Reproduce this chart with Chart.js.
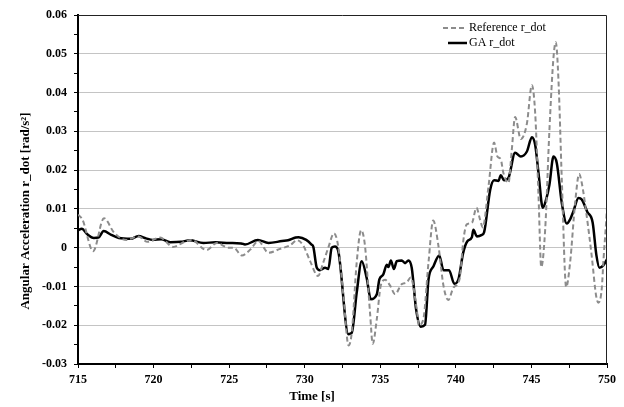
<!DOCTYPE html>
<html>
<head>
<meta charset="utf-8">
<script src="https://cdn.jsdelivr.net/npm/chart.js@4.4.1/dist/chart.umd.min.js"></script>
<style>
    body { margin: 0; background: #fff; }
    canvas { display: block; }
</style>
</head>
<body>
<canvas id="myChart" width="624" height="407"></canvas>
<script>
// GA r_dot trace (time in s, value in rad/s^2)
const gaTime = [
    715.0, 715.25, 715.6, 716.05, 716.35, 716.7, 717.2, 717.7, 718.5, 719.0,
    719.5, 719.95, 720.5, 721.1, 721.8, 722.4, 723.3, 724.1, 725.0, 725.8,
    726.05, 726.9, 727.6, 728.5, 728.9, 729.4, 729.6, 730.1, 730.45, 730.57,
    730.8, 731.0, 731.35, 731.56, 731.79, 732.0, 732.22, 732.89, 733.11, 733.44,
    733.77, 734.1, 734.37, 734.77, 734.94, 735.2, 735.43, 735.54, 735.7, 735.9,
    736.09, 736.42, 736.64, 736.86, 737.08, 737.37, 737.68, 737.96, 738.19, 738.52,
    738.9, 739.18, 739.55, 739.9, 740.17, 740.48, 740.75, 741.06, 741.16, 741.39,
    741.72, 741.87, 742.27, 742.53, 742.82, 742.97, 743.19, 743.48, 743.92, 744.3,
    744.7, 745.03, 745.25, 745.47, 745.75, 745.97, 746.19, 746.46, 746.68, 747.01,
    747.34, 747.56, 747.78, 748.11, 748.33, 748.7, 749.05, 749.3, 749.5, 749.77,
    750.0
];
const gaValue = [
    0.0045, 0.0049, 0.0035, 0.0025, 0.0026, 0.0043, 0.0033, 0.0025, 0.0023, 0.003,
    0.0024, 0.002, 0.0022, 0.0014, 0.0015, 0.0019, 0.0012, 0.0014, 0.0012, 0.0011,
    0.0008, 0.002, 0.0012, 0.0017, 0.0019, 0.0026, 0.0027, 0.002, 0.0008, 0.0002,
    -0.0052, -0.0058, -0.0052, -0.0055, 0.0, 0.0003, -0.0009, -0.0223, -0.022, -0.0116,
    -0.0035, -0.0078, -0.0133, -0.012, -0.0082, -0.0069, -0.0044, -0.005, -0.0033, -0.0055,
    -0.0035, -0.0033, -0.004, -0.0033, -0.0052, -0.0159, -0.0204, -0.0199, -0.0082, -0.0048,
    -0.002, -0.0058, -0.0058, -0.0093, -0.0082, -0.0014, 0.0016, 0.0027, 0.0046, 0.0029,
    0.0033, 0.004, 0.0149, 0.0174, 0.0172, 0.0187, 0.0174, 0.018, 0.0245, 0.0235,
    0.0248, 0.0285, 0.0265, 0.0192, 0.0103, 0.0124, 0.0162, 0.0235, 0.0218, 0.0115,
    0.0062, 0.0073, 0.0094, 0.0128, 0.0124, 0.0092, 0.0065, -0.002, -0.0052, -0.0045,
    -0.003
];

// Reference r_dot trace
const refTime = [
    715.0, 715.3, 716.0, 716.72, 717.4, 718.2, 719.0, 719.6, 720.43, 721.3,
    722.1, 722.5, 723.5, 724.18, 724.95, 725.3, 725.83, 726.4, 726.93, 727.6,
    728.37, 729.03, 729.5, 729.91, 730.35, 730.88, 731.23, 731.56, 731.94, 732.23,
    732.56, 732.9, 733.11, 733.44, 733.73, 733.99, 734.32, 734.5, 734.77, 735.03,
    735.32, 735.65, 735.98, 736.42, 736.75, 737.01, 737.41, 737.55, 737.85, 738.19,
    738.5, 738.85, 739.18, 739.5, 739.84, 740.25, 740.5, 740.72, 741.06, 741.36,
    741.6, 741.78, 742.16, 742.53, 742.75, 742.97, 743.15, 743.48, 743.7, 743.92,
    744.3, 744.7, 745.03, 745.25, 745.47, 745.65, 745.91, 746.19, 746.46, 746.61,
    746.79, 747.01, 747.3, 747.56, 747.89, 748.16, 748.33, 748.66, 748.99, 749.28,
    749.43, 749.65, 749.77, 749.94, 750.0
];
const refValue = [
    0.0085, 0.0072, -0.0009, 0.0076, 0.0038, 0.002, 0.0029, 0.0015, 0.0026, 0.0002,
    0.0016, 0.002, -0.0006, 0.0012, 0.0, 0.0, -0.002, -0.0005, 0.0017, -0.0013,
    -0.0003, 0.0006, 0.0019, 0.0005, -0.0034, -0.0073, -0.0038, 0.0, 0.0037, 0.0,
    -0.0124, -0.0252, -0.022, -0.0038, 0.0045, 0.0004, -0.0167, -0.0248, -0.0184, -0.0098,
    -0.0083, -0.0098, -0.012, -0.0094, -0.009, -0.0077, -0.0158, -0.02, -0.0184, -0.0038,
    0.007, 0.0004, -0.0098, -0.0135, -0.0103, -0.008, 0.002, 0.006, 0.0064, 0.0103,
    0.0073, 0.0052, 0.0158, 0.0271, 0.0235, 0.0228, 0.0192, 0.0167, 0.0252, 0.0337,
    0.028, 0.032, 0.0419, 0.0346, 0.0132, -0.005, 0.0047, 0.0303, 0.0491, 0.053,
    0.0431, 0.0175, -0.0102, -0.0038, 0.0115, 0.019, 0.0167, 0.0081, -0.0022, -0.0124,
    -0.0142, -0.0107, -0.003, 0.0065, 0.0105
];

// Axis ranges and tick steps
const xRange = [715, 750];
const xStep = 2.5;
const yRange = [-0.03, 0.06];
const yStep = 0.005;

const xTitle = 'Time [s]';
const yTitle = 'Angular Acceleration r_dot [rad/s²]';

const serif = "'Liberation Serif', 'Times New Roman', serif";

function toPoints(xs, ys) {
    return xs.map((x, i) => ({ x: x, y: ys[i] }));
}

// Only every 0.01 gets a label and a gridline
function isMajorY(v) {
    return Math.round(v * 1000) % 10 === 0;
}

// Frame, axis titles and legend drawn on top of the chart
const framePlugin = {
    id: 'frame',
    afterDraw(chart) {
        const ctx = chart.ctx;
        const a = chart.chartArea;
        ctx.save();

        // thin top and right edges of the plot box
        ctx.strokeStyle = '#222';
        ctx.lineWidth = 1;
        ctx.beginPath();
        ctx.moveTo(a.left, a.top + 0.5);
        ctx.lineTo(a.right - 0.5, a.top + 0.5);
        ctx.lineTo(a.right - 0.5, a.bottom);
        ctx.stroke();

        // axis titles
        ctx.fillStyle = '#000';
        ctx.font = 'bold 13px ' + serif;
        ctx.textAlign = 'center';
        ctx.textBaseline = 'middle';
        ctx.fillText(xTitle, chart.width / 2, 397);

        ctx.save();
        ctx.translate(26, 211);
        ctx.rotate(-Math.PI / 2);
        ctx.fillText(yTitle, 0, 0);
        ctx.restore();

        // legend in the top right corner
        const rows = [
            { y: 28, x0: 443 },
            { y: 43, x0: 448 }
        ];
        ctx.font = '12px ' + serif;
        ctx.textAlign = 'left';
        chart.data.datasets.forEach((ds, i) => {
            const r = rows[i];
            ctx.strokeStyle = ds.borderColor;
            ctx.lineWidth = ds.borderWidth;
            ctx.setLineDash(ds.borderDash || []);
            ctx.beginPath();
            ctx.moveTo(r.x0, r.y);
            ctx.lineTo(467, r.y);
            ctx.stroke();
            ctx.setLineDash([]);
            ctx.fillText(ds.label, 469, r.y);
        });

        ctx.restore();
    }
};

const ctx = document.getElementById('myChart').getContext('2d');

const myChart = new Chart(ctx, {
    type: 'line',
    data: {
        datasets: [
            {
                label: 'Reference r_dot',
                data: toPoints(refTime, refValue),
                borderColor: '#8c8c8c',
                borderWidth: 2,
                borderDash: [5, 3],
                pointRadius: 0,
                cubicInterpolationMode: 'monotone',
                fill: false
            },
            {
                label: 'GA r_dot',
                data: toPoints(gaTime, gaValue),
                borderColor: '#000',
                borderWidth: 2.5,
                pointRadius: 0,
                cubicInterpolationMode: 'monotone',
                fill: false
            }
        ]
    },
    options: {
        responsive: false,
        animation: false,
        layout: {
            padding: { left: 0, right: 17, top: 15, bottom: 0 }
        },
        plugins: {
            legend: { display: false },
            tooltip: { enabled: false }
        },
        scales: {
            x: {
                type: 'linear',
                min: xRange[0],
                max: xRange[1],
                afterFit: function (scale) { scale.height = 43; },
                border: { display: true, color: '#000', width: 2 },
                grid: {
                    drawOnChartArea: false,
                    drawTicks: true,
                    tickLength: 4,
                    tickColor: '#000'
                },
                ticks: {
                    stepSize: xStep,
                    autoSkip: false,
                    maxRotation: 0,
                    padding: 5,
                    color: '#000',
                    font: { family: serif, size: 12, weight: 'bold' },
                    callback: function (v) {
                        return v % 5 === 0 ? String(v) : '';
                    }
                }
            },
            y: {
                type: 'linear',
                min: yRange[0],
                max: yRange[1],
                afterFit: function (scale) { scale.width = 78; },
                border: { display: true, color: '#000', width: 2 },
                grid: {
                    drawTicks: true,
                    tickLength: 4,
                    tickColor: '#000',
                    lineWidth: 1,
                    color: function (c) {
                        if (!c.tick) return 'rgba(0,0,0,0)';
                        const v = c.tick.value;
                        if (!isMajorY(v) || v <= yRange[0] + 1e-9 || v >= yRange[1] - 1e-9) {
                            return 'rgba(0,0,0,0)';
                        }
                        return '#c4c4c4';
                    }
                },
                ticks: {
                    stepSize: yStep,
                    autoSkip: false,
                    padding: 7,
                    color: '#000',
                    font: { family: serif, size: 12, weight: 'bold' },
                    callback: function (v) {
                        if (!isMajorY(v)) return '';
                        return String(Number(v.toFixed(2)));
                    }
                }
            }
        }
    },
    plugins: [framePlugin]
});
</script>
</body>
</html>
